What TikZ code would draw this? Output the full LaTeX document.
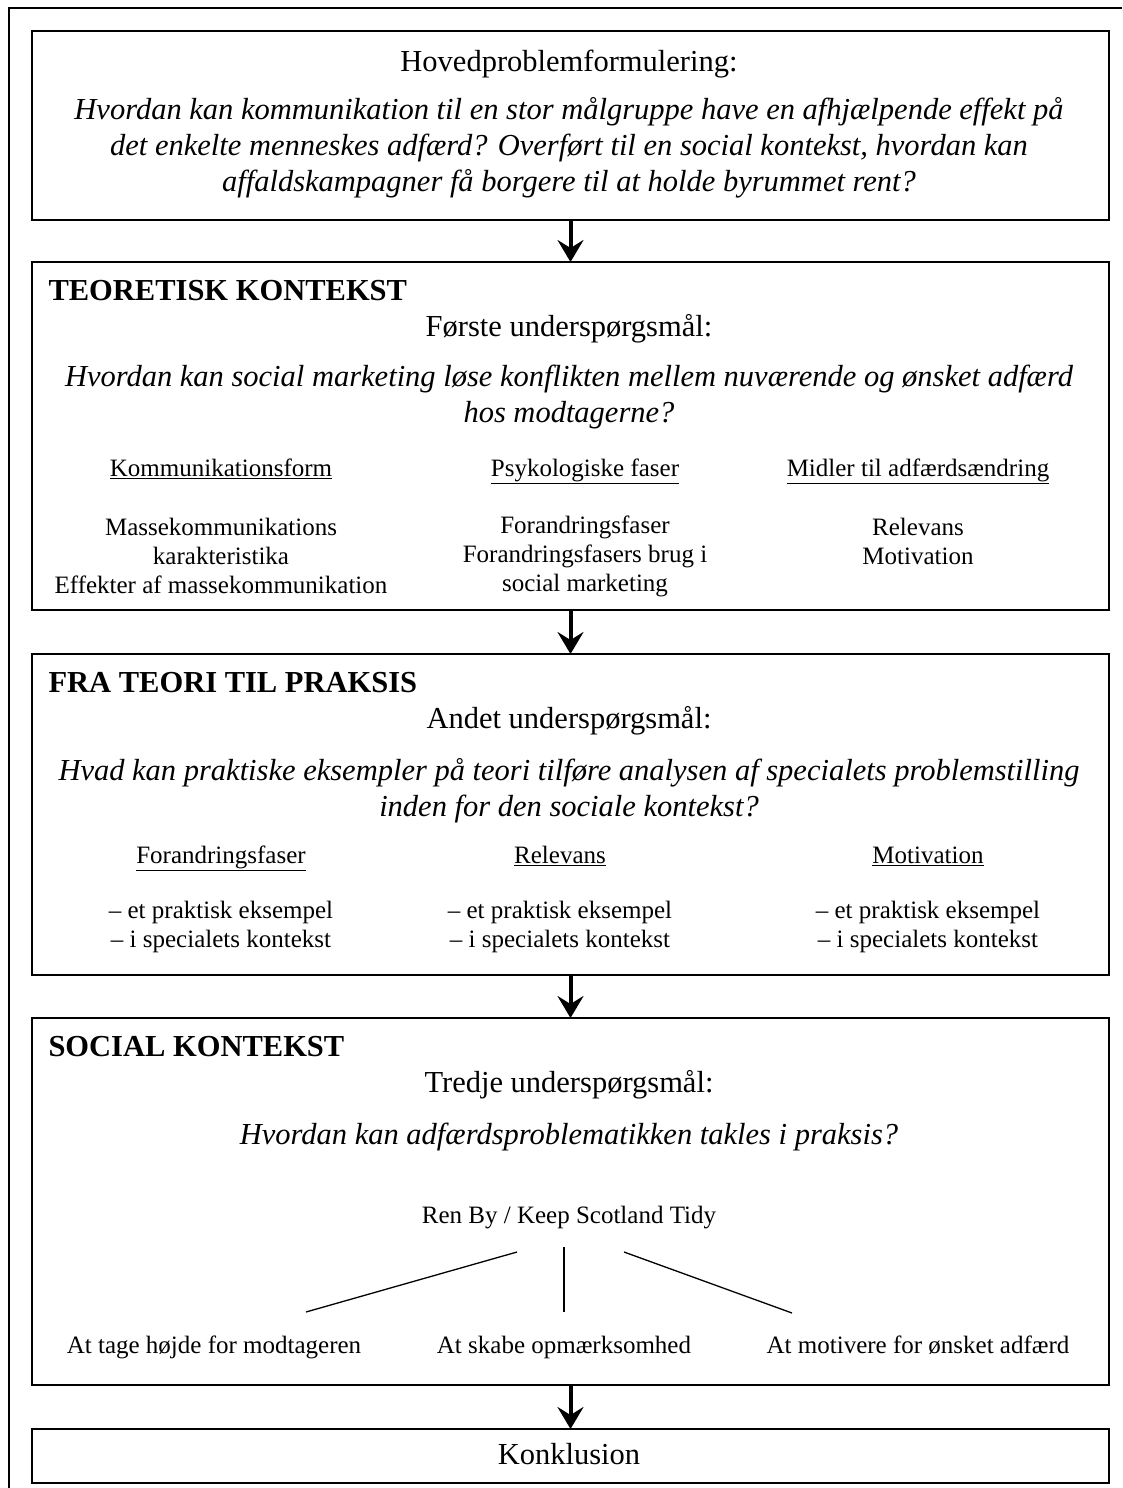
\documentclass[tikz,border=0pt]{standalone}
\usepackage{fontspec}
\setmainfont{Liberation Serif}
\usetikzlibrary{arrows.meta}
\begin{document}
\begin{tikzpicture}[x=1pt,y=-1pt,
  box/.style={draw, line width=2pt, minimum width=1077pt, inner sep=0pt},
  big/.style={font=\fontsize{30.5}{36}\selectfont, align=center, text height=0.72em, text depth=0.22em},
  bigit/.style={font=\fontsize{30.5}{36}\selectfont\itshape, align=center},
  head/.style={font=\fontsize{30.5}{36}\selectfont\bfseries, anchor=west, text height=0.72em, text depth=0.22em},
  small/.style={font=\fontsize{25}{29}\selectfont, align=center},
  smallone/.style={font=\fontsize{25}{29}\selectfont, text height=0.72em, text depth=0.22em},
  arr/.style={line width=4pt, -{Stealth[length=22pt, width=26pt, inset=8pt]}, shorten >=-1pt},
  treeline/.style={line width=1.3pt}
]
\useasboundingbox (0,0) rectangle (1122,1488);
% outer frame (cut by the page at right and bottom)
\coordinate (fa) at (9,1488);
\coordinate (fb) at (9,8);
\coordinate (fc) at (1122,8);
\draw[line width=2pt] (fa) -- (fb) -- (fc);

% boxes
\node[box, minimum height=189pt] (b1) at (570.5,125.5) {};
\node[box, minimum height=348pt] (b2) at (570.5,436) {};
\node[box, minimum height=321pt] (b3) at (570.5,814.5) {};
\node[box, minimum height=367pt] (b4) at (570.5,1201.5) {};
\node[box, minimum height=54pt] (b5) at (570.5,1456) {};

% arrows
\draw[arr] (b1.south) -- (b2.north);
\draw[arr] (b2.south) -- (b3.north);
\draw[arr] (b3.south) -- (b4.north);
\draw[arr] (b4.south) -- (b5.north);

% box 1
\node[big] (t1) at (569,69) {Hovedproblemformulering:};
\node[bigit] (q1) at (569,148) {Hvordan kan kommunikation til en stor målgruppe have en afhjælpende effekt på\\det enkelte menneskes adfærd? Overført til en social kontekst, hvordan kan\\affaldskampagner få borgere til at holde byrummet rent?};

% box 2
\node[head] (h2) at (45,298) {TEORETISK KONTEKST};
\node[big] (s2) at (569,334) {Første underspørgsmål:};
\node[bigit] (q2) at (569,397) {Hvordan kan social marketing løse konflikten mellem nuværende og ønsket adfærd\\hos modtagerne?};
\node[smallone] (c21) at (221,474) {\underline{Kommunikationsform}};
\node[smallone] (c22) at (585,474) {\underline{Psykologiske faser}};
\node[smallone] (c23) at (918,474) {\underline{Midler til adfærdsændring}};
\node[small] (i21) at (221,556) {Massekommunikations\\karakteristika\\Effekter af massekommunikation};
\node[small] (i22) at (585,556) {Forandringsfaser\\Forandringsfasers brug i\\social marketing};
\node[small] (i23) at (918,541.5) {Relevans\\Motivation};

% box 3
\node[head] (h3) at (45,690) {FRA TEORI TIL PRAKSIS};
\node[big] (s3) at (569,726) {Andet underspørgsmål:};
\node[bigit] (q3) at (569,791) {Hvad kan praktiske eksempler på teori tilføre analysen af specialets problemstilling\\inden for den sociale kontekst?};
\node[smallone] (c31) at (221,861) {\underline{Forandringsfaser}};
\node[smallone] (c32) at (560,861) {\underline{Relevans}};
\node[smallone] (c33) at (928,861) {\underline{Motivation}};
\node[small] (i31) at (221,926.5) {– et praktisk eksempel\\– i specialets kontekst};
\node[small] (i32) at (560,926.5) {– et praktisk eksempel\\– i specialets kontekst};
\node[small] (i33) at (928,926.5) {– et praktisk eksempel\\– i specialets kontekst};

% box 4
\node[head] (h4) at (45,1054) {SOCIAL KONTEKST};
\node[big] (s4) at (569,1090) {Tredje underspørgsmål:};
\node[bigit, text height=0.72em, text depth=0.22em] (q4) at (569,1142) {Hvordan kan adfærdsproblematikken takles i praksis?};
\node[smallone] (ren) at (569,1221) {Ren By / Keep Scotland Tidy};
\node[smallone] (l1) at (214,1351) {At tage højde for modtageren};
\node[smallone] (l2) at (564,1351) {At skabe opmærksomhed};
\node[smallone] (l3) at (918,1351) {At motivere for ønsket adfærd};
\coordinate (ta) at (517,1252);
\coordinate (tb) at (564,1247);
\coordinate (tc) at (624,1252);
\coordinate (la) at (306,1312);
\coordinate (lb) at (564,1312);
\coordinate (lc) at (792,1313);
\draw[treeline] (ta) -- (la);
\draw[treeline] (tb) -- (lb);
\draw[treeline] (tc) -- (lc);

% box 5
\node[big] (k) at (569,1462) {Konklusion};
\end{tikzpicture}
\end{document}
